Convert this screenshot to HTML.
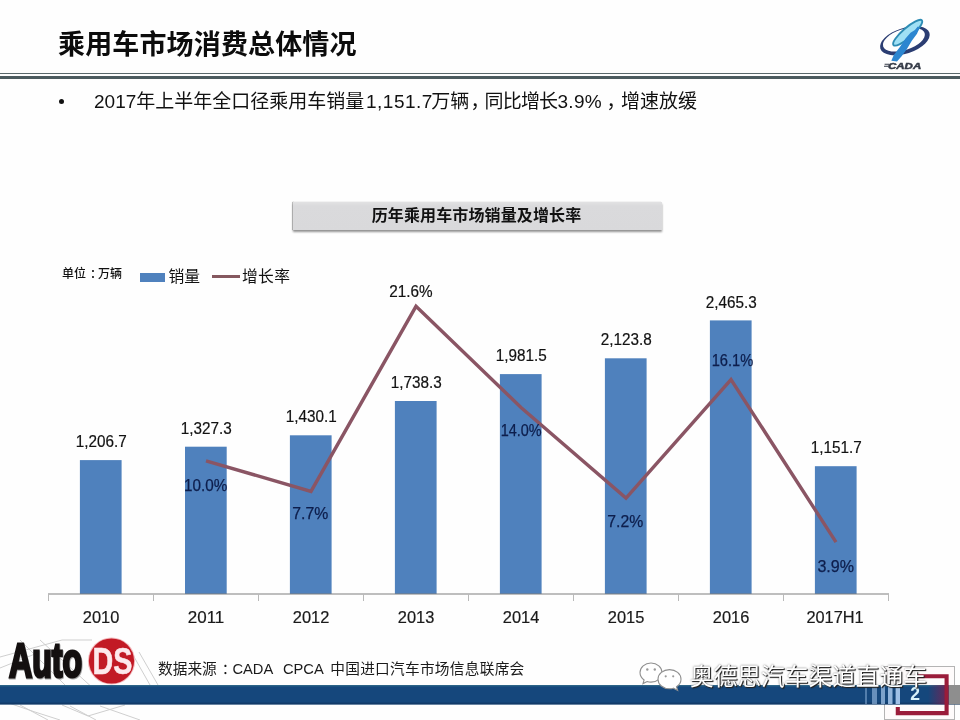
<!DOCTYPE html>
<html lang="zh-CN">
<head>
<meta charset="utf-8">
<title>乘用车市场消费总体情况</title>
<style>
*{margin:0;padding:0;box-sizing:border-box}
html,body{width:960px;height:720px;overflow:hidden;background:#fefefe}
body{position:relative;font-family:"Liberation Sans","Noto Sans CJK SC",sans-serif;color:#111}
.abs{position:absolute;white-space:nowrap}
.title{left:58px;top:25px;font-size:27px;line-height:40px;font-weight:700;color:#0c0c0c;letter-spacing:.15px}
.rule1{left:0;top:73px;width:960px;height:1px;background:#5a686b}
.rule2{left:0;top:76px;width:960px;height:3px;background:#4c5b5f}
.bullet{left:59px;top:99px;width:5px;height:5px;border-radius:50%;background:#111}
.lead{left:94px;top:88px;font-size:19px;line-height:28px;color:#111;height:28px;width:620px}
.lead span{position:absolute;top:0;white-space:nowrap}
.cbox{left:293px;top:201.5px;width:369px;height:28.5px;background:linear-gradient(180deg,#e2e2e3 0,#dadadc 4px,#d9d9db 100%);box-shadow:-1.5px 0 1px #7c7c7c,0 2px 2px rgba(0,0,0,.42)}
.ctitle{left:294px;top:202.4px;width:365px;letter-spacing:.12px;height:28px;text-align:center;font-size:16px;line-height:27px;font-weight:700;color:#111}
.unit{left:62px;top:265px;font-size:12px;line-height:18px;font-weight:500;color:#111}
.lg1{left:140px;top:272.5px;width:25px;height:9px;background:#4f81bd}
.lgt{font-size:15.8px;line-height:22px;color:#111}
.lg2{left:212px;top:274.8px;width:28px;height:3.2px;background:#85585f}
.chart,.deco{position:absolute;left:0;top:0}
.chart text{font-family:"Liberation Sans","Noto Sans CJK SC",sans-serif;font-size:16.6px;fill:#121212;stroke:#121212;stroke-width:.2px}
.chart text.p{fill:#0d1e4c;stroke:#0d1e4c;stroke-width:.25px}
.chart text.y{font-size:16.8px;fill:#1a1a1a}
.band{left:0;top:685px;width:960px;height:19px;background:#15467c}
.src{left:158px;top:658px;font-size:14.7px;line-height:22px;color:#1a1a1a}
.wm{left:690px;top:662px;font-size:23.7px;line-height:30px;color:#fff;text-shadow:1px 1px 1px rgba(30,30,30,.95),0 0 2px rgba(50,50,50,.7),1px 1px 0 rgba(60,60,60,.6)}
</style>
</head>
<body>
<div class="abs title">乘用车市场消费总体情况</div>
<div class="abs rule1"></div>
<div class="abs rule2"></div>
<div class="abs bullet"></div>
<div class="abs lead"><span style="left:0">2017</span><span style="left:42.3px">年上半年全口径乘用车销量</span><span style="left:272px;letter-spacing:.5px">1,151.7</span><span style="left:337.3px">万辆</span><span style="left:376.5px">，</span><span style="left:390.5px;letter-spacing:-.8px">同比增长</span><span style="left:463.5px;letter-spacing:.3px">3.9%</span><span style="left:512.5px">，</span><span style="left:527px">增速放缓</span></div>

<div class="abs cbox"></div>
<div class="abs ctitle">历年乘用车市场销量及增长率</div>
<div class="abs unit">单位<span style="position:relative;left:4px">：</span>万辆</div>
<div class="abs lg1"></div>
<div class="abs lgt" style="left:168.5px;top:266px">销量</div>
<div class="abs lg2"></div>
<div class="abs lgt" style="left:242px;top:266px;letter-spacing:.3px">增长率</div>

<svg class="chart" width="960" height="720" viewBox="0 0 960 720">
<rect x="79.9" y="460.1" width="41.7" height="133.9" fill="#4f81bd"/>
<rect x="185.0" y="446.7" width="41.7" height="147.3" fill="#4f81bd"/>
<rect x="289.9" y="435.3" width="41.7" height="158.7" fill="#4f81bd"/>
<rect x="394.9" y="401.0" width="41.7" height="193.0" fill="#4f81bd"/>
<rect x="499.9" y="374.1" width="41.7" height="219.9" fill="#4f81bd"/>
<rect x="604.9" y="358.3" width="41.7" height="235.7" fill="#4f81bd"/>
<rect x="709.9" y="320.4" width="41.7" height="273.6" fill="#4f81bd"/>
<rect x="814.9" y="466.2" width="41.7" height="127.8" fill="#4f81bd"/>
<path d="M48.0 594.0H889.0" stroke="#7e7e7e" stroke-width="1.1" fill="none"/>
<path d="M48.5 594.0v7M153.5 594.0v7M258.5 594.0v7M363.5 594.0v7M468.5 594.0v7M573.5 594.0v7M678.5 594.0v7M783.5 594.0v7M888.5 594.0v7" stroke="#b9b9b9" stroke-width="1" fill="none"/>
<polyline points="206.0,460.8 311.0,491.4 416.0,306.3 521.0,407.5 626.0,498.1 731.0,379.5 836.0,542.1" fill="none" stroke="#8a5564" stroke-width="3.4" stroke-linejoin="miter" stroke-linecap="butt"/>
<text class="v" x="75.8" y="447.2" textLength="51.0" lengthAdjust="spacingAndGlyphs">1,206.7</text>
<text class="v" x="180.8" y="433.8" textLength="51.0" lengthAdjust="spacingAndGlyphs">1,327.3</text>
<text class="v" x="285.8" y="422.4" textLength="51.0" lengthAdjust="spacingAndGlyphs">1,430.1</text>
<text class="v" x="390.8" y="388.1" textLength="51.0" lengthAdjust="spacingAndGlyphs">1,738.3</text>
<text class="v" x="495.8" y="361.2" textLength="51.0" lengthAdjust="spacingAndGlyphs">1,981.5</text>
<text class="v" x="600.8" y="345.4" textLength="51.0" lengthAdjust="spacingAndGlyphs">2,123.8</text>
<text class="v" x="705.8" y="307.5" textLength="51.0" lengthAdjust="spacingAndGlyphs">2,465.3</text>
<text class="v" x="810.8" y="453.3" textLength="51.0" lengthAdjust="spacingAndGlyphs">1,151.7</text>
<text class="p" x="184.0" y="490.7" textLength="43.3" lengthAdjust="spacingAndGlyphs">10.0%</text>
<text class="p" x="292.3" y="519.3" textLength="36" lengthAdjust="spacingAndGlyphs">7.7%</text>
<text class="v" x="389.3" y="296.7" textLength="43.4" lengthAdjust="spacingAndGlyphs">21.6%</text>
<text class="p" x="500.7" y="436.0" textLength="41" lengthAdjust="spacingAndGlyphs">14.0%</text>
<text class="p" x="607.3" y="527.3" textLength="36" lengthAdjust="spacingAndGlyphs">7.2%</text>
<text class="p" x="711.7" y="365.7" textLength="41.6" lengthAdjust="spacingAndGlyphs">16.1%</text>
<text class="p" x="817.4" y="571.7" textLength="36.7" lengthAdjust="spacingAndGlyphs">3.9%</text>
<text class="y" x="82.8" y="622.7" textLength="36.5" lengthAdjust="spacingAndGlyphs">2010</text>
<text class="y" x="187.8" y="622.7" textLength="36.5" lengthAdjust="spacingAndGlyphs">2011</text>
<text class="y" x="292.8" y="622.7" textLength="36.5" lengthAdjust="spacingAndGlyphs">2012</text>
<text class="y" x="397.8" y="622.7" textLength="36.5" lengthAdjust="spacingAndGlyphs">2013</text>
<text class="y" x="502.8" y="622.7" textLength="36.5" lengthAdjust="spacingAndGlyphs">2014</text>
<text class="y" x="607.8" y="622.7" textLength="36.5" lengthAdjust="spacingAndGlyphs">2015</text>
<text class="y" x="712.8" y="622.7" textLength="36.5" lengthAdjust="spacingAndGlyphs">2016</text>
<text class="y" x="806.4" y="622.7" textLength="57.3" lengthAdjust="spacingAndGlyphs">2017H1</text>
</svg>

<svg class="deco" width="960" height="720" viewBox="0 0 960 720">
<g id="wire" fill="none" stroke="#cfcfcf" stroke-width="1">
<path d="M0 657L62 640L92 640M0 668L40 652M0 700L35 712L60 720M20 705L48 720M62 705L88 716L125 705M70 706L96 720M100 706L140 720M133 655L150 685M139 652L158 685M20 640L70 690M40 640L95 690"/>
</g>
<g id="foot">
<rect x="884.5" y="666.5" width="70" height="53" fill="#fefbfb" stroke="#b4b4b4" stroke-width="1"/>
<rect x="0" y="685" width="960" height="19.4" fill="#15477c"/>
<rect x="0" y="685" width="960" height="1.4" fill="#2c6488"/>
<rect x="0" y="702.6" width="960" height="1.8" fill="#123a68"/>
<defs><linearGradient id="pg" x1="0" x2="1" y1="0" y2="0"><stop offset="0" stop-color="#7a2050" stop-opacity="0"/><stop offset="1" stop-color="#7a2050" stop-opacity=".75"/></linearGradient></defs>
<rect x="928" y="685" width="17" height="19.4" fill="url(#pg)"/>
<rect x="948.7" y="685" width="11.3" height="19.4" fill="#8e8e8e"/>
<g fill="#9fc0e6"><rect x="865" y="686" width="2" height="18" opacity=".45"/><rect x="872" y="686" width="5" height="18" opacity=".6"/><rect x="881" y="686" width="4" height="18" opacity=".75"/><rect x="888" y="686" width="4.5" height="18" opacity=".9"/><rect x="895.6" y="686" width="4.4" height="18"/></g>
<path d="M918 676.3H946.6V713.1H897.8V707" fill="none" stroke="#9a1c3a" stroke-width="4.1"/>
<text x="910.3" y="700.3" style="font-family:'Liberation Sans',sans-serif;font-size:17.5px;font-weight:700;fill:#d9f3fb">2</text>
</g>
<g id="autods">
<text x="9.6" y="678" textLength="73.2" lengthAdjust="spacingAndGlyphs" style="font-family:'Liberation Sans',sans-serif;font-size:48.6px;font-weight:700;fill:#a8a8a8;stroke:#a8a8a8;stroke-width:3px">Auto</text>
<text x="9" y="677.2" textLength="73.2" lengthAdjust="spacingAndGlyphs" style="font-family:'Liberation Sans',sans-serif;font-size:48.6px;font-weight:700;fill:#141010;stroke:#141010;stroke-width:3px">Auto</text>
<circle cx="111.5" cy="661" r="23.6" fill="#f3b9bd"/>
<circle cx="111.5" cy="661" r="22.6" fill="#c21a25"/>
<text x="92.6" y="674.2" textLength="39.8" lengthAdjust="spacingAndGlyphs" style="font-family:'Liberation Sans',sans-serif;font-size:37px;font-weight:700;fill:#fde9ec;stroke:#fde9ec;stroke-width:.6px">DS</text>
</g>
<g id="cada">
<g transform="rotate(-18 904.9 40.8)"><path fill-rule="evenodd" fill="#2b3d72" d="M879.1 40.8a25.8 12.8 0 1 0 51.6 0a25.8 12.8 0 1 0 -51.6 0ZM882.5 39.4a21.8 10.4 0 1 0 43.6 0a21.8 10.4 0 1 0 -43.6 0Z"/></g>
<ellipse cx="907.7" cy="32.7" rx="18.8" ry="4.9" transform="rotate(-41 907.7 32.7)" fill="#9fe0f5" stroke="#2d8cb4" stroke-width="1.9"/>
<path d="M914.9 29.9 L917.8 26.6 L919.7 27.4 L917.0 33.7 L911.8 40.8 L906.6 49.5 L901.6 56.2 L897.0 61.6 L891.3 60.7 L893.8 54.9 L899.9 47.0 L905.3 38.7 L910.5 32.8Z" fill="#2c86d0"/>
<path d="M884.6 64.2h4.6M884 66.3h4.400" stroke="#353b47" stroke-width="1.1"/>
<text x="888" y="68.9" textLength="33.200" lengthAdjust="spacingAndGlyphs" style="font-family:'Liberation Sans',sans-serif;font-size:9.6px;font-weight:700;font-style:italic;fill:#353b47;stroke:#353b47;stroke-width:.5px">CADA</text>
</g>
<g id="wx" fill="#fff" stroke="#8f8f8f" stroke-width="1.1">
<path d="M651 663c-6.2 0-11 4.3-11 9.6c0 3 1.6 5.6 4.1 7.4l-1.1 3.6l4.1-2.1c1.2.4 2.5.6 3.9.6c6.200 0 11-4.300 11-9.500s-4.800-9.600-11-9.600Z"/>
<path d="M669.500 669.600c-6.400 0-11.500 4.300-11.500 9.600s5.100 9.600 11.500 9.600c1.400 0 2.700-.2 3.900-.6l4.300 2.300l-1.200-3.800c2.800-1.800 4.500-4.500 4.500-7.500c0-5.300-5.100-9.600-11.500-9.600Z"/>
<g fill="#9a9a9a" stroke="none"><circle cx="647.300" cy="669.500" r="1.200"/><circle cx="654.800" cy="669.500" r="1.200"/><circle cx="665.700" cy="676.300" r="1.100"/><circle cx="673.200" cy="676.300" r="1.100"/></g>
</g>
</svg>
<div class="abs src">数据来源<span style="position:relative;left:5px">：</span><span style="position:relative;left:1px">CADA</span>&nbsp; <span style="position:relative;left:2.5px">CPCA</span>&nbsp; <span style="position:relative;left:.8px;letter-spacing:.26px">中国进口汽车市场信息联席会</span></div>
<div class="abs wm">奥德思汽车渠道直通车</div>
</body>
</html>
